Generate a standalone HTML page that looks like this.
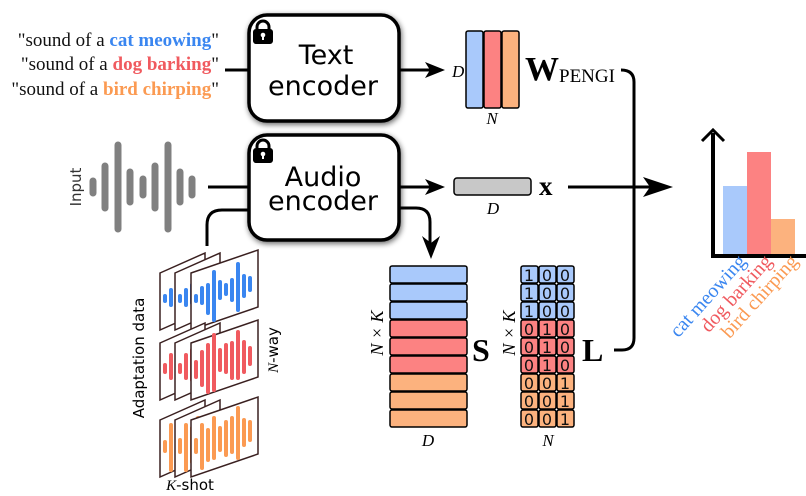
<!DOCTYPE html>
<html><head><meta charset="utf-8"><style>
html,body{margin:0;padding:0;background:#fff}
svg{display:block}
.s{font-family:"Liberation Serif",serif}
.a{font-family:"DejaVu Sans","Liberation Sans",sans-serif}
</style></head><body>
<svg width="806" height="496" viewBox="0 0 806 496" xmlns="http://www.w3.org/2000/svg">
<defs>
<filter id="sh" x="-20%" y="-20%" width="140%" height="140%"><feGaussianBlur in="SourceAlpha" stdDeviation="3"/><feOffset dx="1" dy="2"/><feComponentTransfer><feFuncA type="linear" slope="0.6"/></feComponentTransfer><feMerge><feMergeNode/><feMergeNode in="SourceGraphic"/></feMerge></filter>
<g id="lock"><rect x="0" y="8" width="20" height="15" rx="3" fill="#000"/><path d="M4 9 V6 a6 6 0 0 1 12 0 V9" fill="none" stroke="#000" stroke-width="3"/><circle cx="10" cy="14" r="2.3" fill="#fff"/><rect x="9" y="14" width="2" height="5" fill="#fff"/></g>
</defs>

<g class="s" font-size="19" text-anchor="end" fill="#111">
<text x="219" y="46">"sound of a <tspan fill="#3a86f0" font-weight="bold">cat meowing</tspan>"</text>
<text x="219" y="70">"sound of a <tspan fill="#f05a5f" font-weight="bold">dog barking</tspan>"</text>
<text x="219" y="95">"sound of a <tspan fill="#fb9a52" font-weight="bold">bird  chirping</tspan>"</text>
</g>
<path d="M225 70 H250" stroke="#000" stroke-width="3"/>

<rect x="249" y="15" width="150" height="106" rx="18" fill="#fff" stroke="#000" stroke-width="3.5" filter="url(#sh)"/>
<use href="#lock" x="253" y="21"/>
<text class="a" x="326" y="64" font-size="27" text-anchor="middle">Text</text>
<text class="a" x="323" y="95" font-size="27" text-anchor="middle">encoder</text>
<rect x="249" y="135" width="150" height="105" rx="18" fill="#fff" stroke="#000" stroke-width="3.5" filter="url(#sh)"/>
<use href="#lock" x="253" y="140"/>
<text class="a" x="323" y="186" font-size="27" text-anchor="middle">Audio</text>
<text class="a" x="323" y="210" font-size="27" text-anchor="middle">encoder</text>

<text class="a" x="76" y="187" font-size="15" fill="#333" text-anchor="middle" transform="rotate(-90 76 187)" dy="5">Input</text>
<g stroke="#808080" stroke-width="7" stroke-linecap="round">
<path d="M93 181 V193 M105 166 V208 M118 145 V229 M130 172 V202 M143 179 V195 M155 166 V208 M168 145 V229 M180 172 V202 M192 179 V195"/>
</g>
<path d="M208 187 H250" stroke="#000" stroke-width="3"/>
<path d="M207 246 V225 Q207 210 222 210 H250" fill="none" stroke="#000" stroke-width="3"/>

<path d="M399 70 H430" stroke="#000" stroke-width="3"/><path d="M445 70 L425 62 L430 70 L425 78Z"/>
<path d="M399 187 H430" stroke="#000" stroke-width="3"/><path d="M445 187 L425 179 L430 187 L425 195Z"/>
<path d="M399 208 H416 Q430 208 430 222 V243" fill="none" stroke="#000" stroke-width="3"/><path d="M431 259 L422 236 L431 243 L440 236Z"/>

<text class="s" x="452" y="77" font-size="17" font-style="italic">D</text>
<rect x="466" y="31" width="17" height="77" rx="2" fill="#a9c9fb" stroke="#000" stroke-width="1.5"/>
<rect x="484" y="31" width="17" height="77" rx="2" fill="#fc8282" stroke="#000" stroke-width="1.5"/>
<rect x="502" y="31" width="17" height="77" rx="2" fill="#fcb27e" stroke="#000" stroke-width="1.5"/>
<text class="s" x="492" y="124" font-size="17" font-style="italic" text-anchor="middle">N</text>
<text class="s" x="525" y="80" font-size="34" font-weight="bold">W</text>
<text class="s" x="559" y="82" font-size="19">PENGI</text>

<rect x="454" y="178" width="77" height="17" rx="3" fill="#c8c8c8" stroke="#000" stroke-width="1.5"/>
<text class="s" x="493" y="214" font-size="17" font-style="italic" text-anchor="middle">D</text>
<text class="s" x="539" y="195" font-size="27" font-weight="bold">x</text>
<path d="M568 187 H655" stroke="#000" stroke-width="3"/><path d="M673 187 L643 177 L650 187 L643 197Z"/>

<path d="M621 70 Q634 70 634 82 V338 Q634 350 622 350 H614" fill="none" stroke="#000" stroke-width="3"/>

<g stroke="#000" stroke-width="1.5">
<rect x="390" y="266" width="77" height="17" rx="2" fill="#a9c9fb"/>
<rect x="390" y="284" width="77" height="17" rx="2" fill="#a9c9fb"/>
<rect x="390" y="302" width="77" height="17" rx="2" fill="#a9c9fb"/>
<rect x="390" y="320" width="77" height="17" rx="2" fill="#fc8282"/>
<rect x="390" y="338" width="77" height="17" rx="2" fill="#fc8282"/>
<rect x="390" y="356" width="77" height="17" rx="2" fill="#fc8282"/>
<rect x="390" y="374" width="77" height="17" rx="2" fill="#fcb27e"/>
<rect x="390" y="392" width="77" height="17" rx="2" fill="#fcb27e"/>
<rect x="390" y="410" width="77" height="17" rx="2" fill="#fcb27e"/>
</g>
<text class="s" x="383" y="333" font-size="18" font-style="italic" text-anchor="middle" transform="rotate(-90 383 333)">N × K</text>
<text class="s" x="428" y="446" font-size="17" font-style="italic" text-anchor="middle">D</text>
<text class="s" x="472" y="361" font-size="32" font-weight="bold">S</text>

<g stroke="#000" stroke-width="1.5">
<g fill="#a9c9fb">
<rect x="521" y="266" width="17" height="17" rx="2"/><rect x="539" y="266" width="17" height="17" rx="2"/><rect x="557" y="266" width="17" height="17" rx="2"/>
<rect x="521" y="284" width="17" height="17" rx="2"/><rect x="539" y="284" width="17" height="17" rx="2"/><rect x="557" y="284" width="17" height="17" rx="2"/>
<rect x="521" y="302" width="17" height="17" rx="2"/><rect x="539" y="302" width="17" height="17" rx="2"/><rect x="557" y="302" width="17" height="17" rx="2"/>
</g>
<g fill="#fc8282">
<rect x="521" y="320" width="17" height="17" rx="2"/><rect x="539" y="320" width="17" height="17" rx="2"/><rect x="557" y="320" width="17" height="17" rx="2"/>
<rect x="521" y="338" width="17" height="17" rx="2"/><rect x="539" y="338" width="17" height="17" rx="2"/><rect x="557" y="338" width="17" height="17" rx="2"/>
<rect x="521" y="356" width="17" height="17" rx="2"/><rect x="539" y="356" width="17" height="17" rx="2"/><rect x="557" y="356" width="17" height="17" rx="2"/>
</g>
<g fill="#fcb27e">
<rect x="521" y="374" width="17" height="17" rx="2"/><rect x="539" y="374" width="17" height="17" rx="2"/><rect x="557" y="374" width="17" height="17" rx="2"/>
<rect x="521" y="392" width="17" height="17" rx="2"/><rect x="539" y="392" width="17" height="17" rx="2"/><rect x="557" y="392" width="17" height="17" rx="2"/>
<rect x="521" y="410" width="17" height="17" rx="2"/><rect x="539" y="410" width="17" height="17" rx="2"/><rect x="557" y="410" width="17" height="17" rx="2"/>
</g>
</g>
<g class="a" font-size="16" text-anchor="middle" fill="#111">
<text x="529" y="281">1</text><text x="547" y="281">0</text><text x="565" y="281">0</text>
<text x="529" y="299">1</text><text x="547" y="299">0</text><text x="565" y="299">0</text>
<text x="529" y="317">1</text><text x="547" y="317">0</text><text x="565" y="317">0</text>
<text x="529" y="335">0</text><text x="547" y="335">1</text><text x="565" y="335">0</text>
<text x="529" y="353">0</text><text x="547" y="353">1</text><text x="565" y="353">0</text>
<text x="529" y="371">0</text><text x="547" y="371">1</text><text x="565" y="371">0</text>
<text x="529" y="389">0</text><text x="547" y="389">0</text><text x="565" y="389">1</text>
<text x="529" y="407">0</text><text x="547" y="407">0</text><text x="565" y="407">1</text>
<text x="529" y="425">0</text><text x="547" y="425">0</text><text x="565" y="425">1</text>
</g>
<text class="s" x="515" y="333" font-size="18" font-style="italic" text-anchor="middle" transform="rotate(-90 515 333)">N × K</text>
<text class="s" x="548" y="446" font-size="17" font-style="italic" text-anchor="middle">N</text>
<text class="s" x="582" y="361" font-size="32" font-weight="bold">L</text>

<rect x="723" y="186" width="24" height="70" fill="#a9c9fb"/>
<rect x="747" y="152" width="24" height="104" fill="#fc8282"/>
<rect x="771" y="219" width="24" height="37" fill="#fcb27e"/>
<path d="M713 133 V256 H806" fill="none" stroke="#000" stroke-width="4"/>
<path d="M702 141 L713 130 L724 141" fill="none" stroke="#000" stroke-width="3"/>
<g class="s" font-size="20" text-anchor="end">
<text x="0" y="0" fill="#3a86f0" transform="translate(747 262) rotate(-48)">cat meowing</text>
<text x="0" y="0" fill="#f05a5f" transform="translate(773 262) rotate(-48)">dog barking</text>
<text x="0" y="0" fill="#fb9a52" transform="translate(799 262) rotate(-48)">bird chirping</text>
</g>

<g stroke-linecap="round" stroke-width="4">
<g stroke="#3a86f0">
<path d="M160 273 L205 253 V310 L160 330Z" fill="#fff" stroke="#3a2020" stroke-width="1.5"/>
<path d="M165 296V301 M171 290V305 M177 285V305 M183 280V296"/>
<path d="M175 273 L220 253 V310 L175 330Z" fill="#fff" stroke="#3a2020" stroke-width="1.5"/>
<path d="M180 296V301 M186 290V305 M192 285V303 M198 283V296"/>
<path d="M191 273 L258 250 V307 L191 330Z" fill="#fff" stroke="#3a2020" stroke-width="1.5"/>
<path d="M196 296V301 M202 288V303 M208 285V313 M214 272V320 M220 282V298 M226 285V294 M232 280V300 M238 264V310 M244 276V296 M250 278V290"/>
</g>
<g stroke="#f05a5f">
<path d="M160 343 L205 323 V380 L160 400Z" fill="#fff" stroke="#3a2020" stroke-width="1.5"/>
<path d="M165 365V372 M171 355V378 M177 350V380 M183 345V368"/>
<path d="M175 343 L220 323 V380 L175 400Z" fill="#fff" stroke="#3a2020" stroke-width="1.5"/>
<path d="M180 365V372 M186 355V378 M192 350V380 M198 348V370"/>
<path d="M191 343 L258 320 V377 L191 400Z" fill="#fff" stroke="#3a2020" stroke-width="1.5"/>
<path d="M196 362V377 M202 352V385 M208 345V392 M214 335V390 M220 350V370 M226 345V372 M232 343V378 M238 332V378 M244 342V372 M250 348V364"/>
</g>
<g stroke="#fb9a52">
<path d="M160 420 L205 400 V457 L160 477Z" fill="#fff" stroke="#3a2020" stroke-width="1.5"/>
<path d="M165 442V451 M171 425V470 M177 430V460 M183 420V455"/>
<path d="M175 420 L220 400 V457 L175 477Z" fill="#fff" stroke="#3a2020" stroke-width="1.5"/>
<path d="M180 440V452 M186 425V470 M192 428V462 M198 418V452"/>
<path d="M191 420 L258 397 V454 L191 477Z" fill="#fff" stroke="#3a2020" stroke-width="1.5"/>
<path d="M196 440V452 M202 425V468 M208 430V460 M214 418V458 M220 428V450 M226 422V455 M232 418V452 M238 408V458 M244 420V445 M250 422V440"/>
</g>
</g>
<text class="a" x="144" y="358" font-size="15" text-anchor="middle" transform="rotate(-90 144 358)">Adaptation data</text>
<text class="a" x="278" y="350" font-size="15" text-anchor="middle" transform="rotate(-90 278 350)"><tspan font-family="Liberation Serif" font-style="italic">N</tspan>-way</text>
<text class="a" x="190" y="490" font-size="15" text-anchor="middle"><tspan font-family="Liberation Serif" font-style="italic">K</tspan>-shot</text>
</svg>
</body></html>
